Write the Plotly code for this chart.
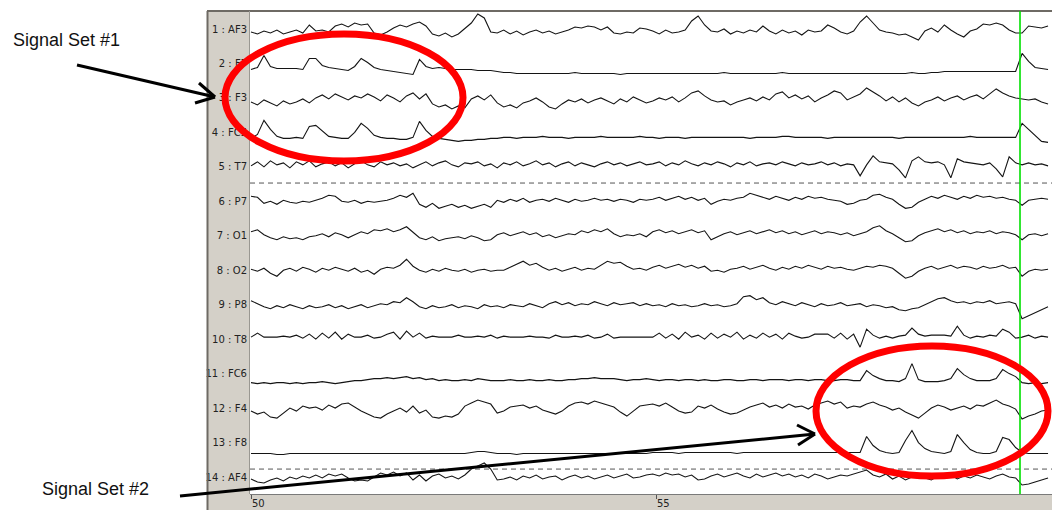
import numpy as np
import plotly.graph_objects as go

# ---------------- data ----------------
CHANNELS = ["AF3", "F7", "F3", "FC5", "T7", "P7", "O1", "O2", "P8", "T8", "FC6", "F4", "F8", "AF4"]
CHANNEL_LABELS = [f"{i + 1} : {c}" for i, c in enumerate(CHANNELS)]
T_START = 50.0          # s, first sample
DT = 0.08               # s, sample spacing of the read-off values
X_TICKS = [50, 55]
MARKER_TIME = 59.494    # green cursor
SEPARATORS = [5.47, 13.77]  # dashed marker rows

AF3 = [-3, -5, -2, -4, -1, -5, -3, -1, -4, 4, -2, -1, -3, 3, 5, 2, 6, 4, 5, -4, -6, -3, 1, 4, 2, 5, 7, 3, -5, -7, -4, -8, -5,
       1, 6, 15, 11, -3, -4, -1, -5, -2, -6, -3, -1, -4, -2, -5, -3, -1, 2, 1, 3, 2, -1, 2, -4, -5, -3, -4, 1, 0,
       -2, -5, -1, -4, -3, -1, 8, 13, 4, -2, -3, 0, -5, -2, -4, -1, -3, 3, -2, -5, -1, -4, -2, -6, -1, -3, -2, 4, 1, -3,
       -5, -2, 7, 13, 6, -1, -3, -4, -6, -5, -8, -11, -2, 1, -3, 4, -1, -5, -8, -2, 0, 5, 4, 6, 4, -1, -4, -4, 3, 2, 1, 3]
F7 = [-6, -4, 8, -3, -5, -5, -5, -5, -6, 5, 5, -2, -4, -5, -6, -7, -3, 5, 1, -4, -6, -7, -8, -9, -10, -11, 4, -3, -5, -4,
      -5, -6, -6, -6, -6, -7, -7, -7, -8,
      -9, -9, -10, -10, -10, -10, -10, -10, -10, -10, -10, -9, -10, -10, -10, -10, -10, -10, -11, -10, -10, -10, -10,
      -10, -10, -10, -10, -10, -10, -10, -10, -10, -10, -10, -9, -10, -10, -10, -10, -10, -10, -10, -10,
      -9, -10, -10, -10, -10, -10, -10, -10, -10, -10, -10, -10, -10, -10, -10, -10, -10, -10, -10, -10, -9, -10, -10,
      -9, -9, -8, -8, -8, -8, -8, -8, -8, -8, -8, -8, -8, -8, 10, 2, -4, -5, -6]
F3 = [-4, -7, -2, -5, -8, -3, -6, -4, -1, -5, 0, 3, -1, 4, 1, -2, 2, 0, 4, 1, -3, 3, 0, -4, 2, 5, -1, 4, -6, -9,
      -7, -11, -8, -10, -1, 2, -2, 3, -5, -9, -7, -10, -5, -3, 0, -4, -9, -11, -6, -2, -4, -1, -5, -2, 0, -3, -6, -1, -4, 1,
      -2, -5,
      -3, 0, -2, 1, -4, 0, 5, 7, 2, -2, -4, -3, -7, -4, -2, 0, -3, 1, -2, 4, 6, 0, 3, -1, 2, -4, 0, 3, 7, 5,
      -2, 1, 4, 10, 6, 2, -3, 1, -4, 0, -5, -8, -4, -2, 1, -3, 0, 2, -2, 1, 3, -1, 4, 9, 5, 2, 0, -1, -2, -1, -4, -6]
FC5 = [-6, -2, 12, 3, -4, -6, -6, -5, -6, 6, 7, 1, -4, -5, -6, -6, 0, 9, 4, -3, -5, -6, -6, -7, -7, -5, 11, 2, -4, -6,
       -7, -8, -9, -8, -8, -7, -7, -6, -6,
       -5, -5, -6, -5, -5, -5, -4, -5, -5, -5, -6, -5, -5, -5, -5, -4, -5, -5, -5, -5, -5, -4, -5,
       -5, -6, -5, -5, -5, -6, -5, -5, -5, -5, -5, -5, -5, -5, -5, -6, -5, -5, -5, -5, -4, -4, -5, -5, -5, -5, -5, -6,
       -5, -5, -5, -5, -5, -5, -5, -5, -5, -5, -6, -5, -5, -5, -5, -5, -5, -5, -5, -5, -5, -4, -5, -5, -5, -5, -5, -5, -5,
       9, 3, -4, -9, -10]
T7 = [1, 5, 0, 6, 2, 4, -1, 5, 2, 6, 0, 3, 5, 1, 4, -1, 3, 6, 2, 0, 5, 2, 4, 1, 3, -1, 2, 5, 1, 4, 6, 2, 0, 4, 3, 5, 1, 3,
      -1, 4, 2, 5, 1, 3, 6, 2, 4, 0, 3, 5, 1, 4, 2, 0, 3, 5, 2, 4, 1, 3, 5, 2,
      3, 5, 1, 4, 2, 6, 3, 1, 4, 2, 5, 3, 0, 4, 2, 5, 1, 3, 4, 2, 5, 3, 1, 4, 2, 3, 5, 2, 4, 1, 3, 2,
      -9, 2, 11, 5, 4, 3, -3, -11, 6, 10, 5, 4, 5, 2, -11, 8, 5, 4, 3, 2, 4, -2, -10, 10, 4, 2, 4, 2, 3, 1]
P7 = [5, 4, -2, 0, -3, 1, -1, -2, 0, -1, 1, 3, 6, 5, 0, -1, 1, -2, 0, -1, 0, 1, 3, 6, 4, 8, -3, -6, -2, -7, -5,
      -3, -6, -4, -7, -5, -3, -6, 1, -1, 2, 0, 3, -1, 1, 2, 0, 3, 1, -1, 2, 0, 1, 3, 1, 2, 0, 2, 1, -1, 2, 1,
      2, 4, 1, 3, 5, 2, 4, 1, 3, -3, 0, 2, 1, 3, 4, 8, 6, 4, 2, 5, 3, 1, 4, 2, 5, 3, 4, 2, 1, 0, -3, -2, 1, 2,
      6, 7, 4, 2, -3, -7, -6, -1, 2, 5, 3, 6, 4, 2, 5, 3, 6, 4, 5, 3, 4, 2, 1, -4, 1, 2, 3, 2]
O1 = [4, 6, 1, -2, -4, -1, -3, -2, -4, -1, 0, 2, -1, 3, 1, -2, 1, 4, 2, 6, 5, 7, 4, 6, 9, 3, -2, -4, -1, -5, -3, -2,
      -1, -3, 0, -2, -5, -4, 1, 3, 0, 2, 4, 1, 3, -1, 1, -2, 0, 2, 1, 5, 3, 6, 4, 7, 2, -1, 1, 0, 2, -1,
      4, 6, 3, 5, 2, 4, 6, 3, 5, -4, -1, 2, 4, 1, 3, 5, 2, 4, 6, 3, 5, 2, 4, 1, 3, 5, 2, 4, 3, 1, 3, 0, 2,
      4, 8, 10, 5, 2, -2, -6, -5, 0, 3, 5, 7, 4, 6, 3, 5, 2, 4, 3, 5, 2, 4, 3, 1, -4, 1, 2, 0, 2]
O2 = [1, -1, 2, -3, -6, 0, 2, -1, 3, 1, -2, 2, 0, 3, 1, -1, 2, -2, 0, -4, 1, 3, 2, 5, 11, 4, 0, -2, 1, -1, 2, 0, -1,
      1, -2, 0, 1, -1, 0, 0, 3, 6, 9, 5, 7, 3, 0, 2, -1, 1, 3, 0, 2, 1, 5, 9, 7, 8, 4, 1, 2, 0,
      3, 5, 2, 4, 6, 3, 5, 2, 4, -1, 0, -2, 1, 2, 4, 1, 3, 5, 2, 0, 3, 1, 4, 2, 5, 3, 1, 4, 2, 3, 1, 0,
      2, 4, 3, 5, 4, 2, -3, -8, -6, -1, 2, 4, 1, 3, 5, 2, 4, 3, 1, 4, 2, 3, 5, 2, 3, -6, -1, 1, 0, 1]
P8 = [4, 1, -2, -4, -1, -3, 0, -2, -4, -1, -3, -2, 0, -3, -1, -4, -2, 0, -3, -1, 1, 0, 3, 2, 7, 3,
      -2, -4, -1, -3, -2, 0, -3, -1, -2, -4, 0, -2, -1, -3, 0, -1, -2, 1, -1, -3,
      1, 3, 0, 2, -1, 1, 0, 3, 1, -1, 2, 0, 1, 2, -1, 1,
      -1, 0, -2, 1, -1, 0, -2, -1, 1, -1, 0, -2, -1, 1, 8, 9, 5, 7, 2, 0, 3, 1, -1, 2, 0, -2, 1, -1, 0, 2, -1, 0, 1,
      -2, 0, -1, -3, -2, -5, -6, -4, -3, 0, 3, 6, 7, 4, 2, 3, 1, 3, 2, 4, 1, 2, 3, 1, -14, -11, -8, -5, -2]
T8 = [2, 6, 2, 2, 2, 3, 2, 4, 1, 5, 0, 6, 1, 7, 0, 5, 2, 2, 4, 1, 2, 5, 7, 0, 8, 2, 6, 1, 3, 2, 2, 2, 4, 2, 2, 3,
      2, 4, 1, 3, 2, 2, 2, 3, 2, 2, 1, 4, 2, 2, 3, 2, 4, 1, 2, 5, 1, 2, 2, 2, 2, 2,
      2, 6, 1, 5, 0, 7, 2, 4, 0, 6, 1, 5, 2, 7, 0, 4, 1, 6, 2, 5, 0, 6, 3, 1, 2, 5, 5, 5, 1, 6, 0, 5,
      -8, 10, 4, 1, 3, 1, 3, 4, 11, 5, 3, 4, 4, 4, 3, 13, 4, 1, 3, 2, 4, 3, 10, 7, 1, 2, 4, 1, 3, 2]
FC6 = [-9, -10, -9, -10, -9, -9, -10, -9, -10, -9, -9, -8, -9, -10, -9, -8, -7, -7, -6, -5, -5,
       -4, -5, -4, -3, -5, -4, -6, -5,
       -7, -6, -7, -7, -6, -7, -5, -6, -7, -7, -7, -6, -7, -7, -6, -7, -7, -6, -7, -7, -6,
       -6, -5, -5, -4, -5, -5, -5, -6, -7, -6, -6, -5,
       -6, -7, -6, -6, -7, -6, -6, -7, -6, -7, -7, -6, -6, -7, -7, -6, -6, -7, -6, -6, -6, -7, -6, -6, -7, -6, -6, -7,
       -7, -6, -6, -7,
       -7, 3, -2, -5, -7, -7, -8, -5, 10, -6, -8, -8, -8, -7, -5, 5, -1, -5, -7, -7, -7, -5, 4, 0, -3, -9, -10, -9, -10, -9]
F4 = [-3, -6, -4, -9, -10, -5, 0, -3, 2, 0, 1, -2, 3, 0, 4, 5, 1, -3, -6, -9, -10, -6, -3, 0, -4, 2, -5, -2, -9, -10,
      -8, -9, -6, 2, 5, 8, 6, 4, -5, -3, 1, 2, 3, 0, 2, -2, -4, -6, -3, 2, 5, 6, 4, 7, 5, 3, 1, -4, -8, -3, 2, 3,
      4, 2, 5, 1, -3, -5, -4, 2, 0, 3, -1, -4, -6, -5, -2, 1, 3, 5, 1, 3, 0, 4, 1, 2, -1, 3, 5, 7, 4, 6, 0, 2,
      1, 4, 6, 3, 1, -2, 0, -4, -7, -10, -5, 0, 3, 1, -2, 0, 2, -1, 3, 2, 5, 8, 4, 2, -1, -11, -8, -6, -3, -2]
F8 = [-11, -11, -11, -11, -12, -12, -11, -11, -11, -11, -11, -11, -11, -11, -11, -11, -11, -11, -11, -11,
      -11, -11, -11, -11, -11, -11, -11, -11, -11, -11, -11, -11, -11, -11, -10, -9, -9, -10,
      -11, -11, -11, -12, -11, -11, -11, -11, -11, -11, -11, -11, -11, -11, -11, -11, -11, -11, -11, -11,
      -11, -11, -11, -11,
      -10, -10, -10, -10, -11, -10, -10, -10, -10, -10, -10, -10, -10, -11, -10, -10, -10, -10, -10, -10,
      -10, -10, -10, -10, -10, -10, -10, -10, -10, -10, -10, -10,
      -10, 6, -3, -8, -10, -11, -10, 2, 12, 0, -6, -9, -10, -11, -9, 8, 0, -7, -10, -11, -11, -9, 5, 3, -5,
      -10, -11, -11, -11, -11]
AF4 = [-2, -5, -6, -3, -1, -4, 0, -2, 1, -1, 2, -1, 3, 1, 3, -1, -4, -3, -4, 0, 4, 2, 5, 1, 4, -3, 2, -4, 1, 3,
       -1, 1, -2, 2, 8, 11, 14, 8, -3, -2,
       0, -3, 1, -1, 2, -2, 0, 1, -3, 0, 2, -1, 1, -2, 0, 2, -1, 1, 3, -1, 0, 2,
       3, 1, 4, 2, 3, 0, 2, -3, -2, 1, 3, 0, 2, 4, 1, -1, 3, 0, 2, 4, 1, 3, 0, 2, -1, 3, 1, -2, 0, 2, 1, 3,
       5, 7, 2, 0, 3, -2, 1, -3, 0, 2, -1, -3, 1, 0, 2, -2, 1, -1, 2, 0, -2, 1, 3, 0, -1, -8, -7, -5, -3, -1]

SIGNALS = [AF3, F7, F3, FC5, T7, P7, O1, O2, P8, T8, FC6, F4, F8, AF4]

# ---------------- layout geometry ----------------
W, H = 1052, 510
ML, MR, MT, MB = 250, 0, 11, 16
PW, PH = W - ML - MR, H - MT - MB
ROW_PX = 34.46          # pixels between channel rows
GAIN = 1.0 / ROW_PX     # display sensitivity (value units -> row units)


def px(x):
    return (x - ML) / PW


def py(y):
    return (H - MB - y) / PH


fig = go.Figure()
for k, (name, vals) in enumerate(zip(CHANNELS, SIGNALS)):
    v = np.asarray(vals, dtype=float)
    t = T_START + DT * np.arange(len(v))
    fig.add_trace(go.Scatter(x=t, y=(k + 1) - v * GAIN, mode="lines", name=name,
                             line=dict(color="#141414", width=1.1), hoverinfo="skip",
                             showlegend=False))

y_top = 1 - (29 - MT) / ROW_PX
y_bot = len(CHANNELS) + (H - MB - 477) / ROW_PX
x_left = T_START + (ML - 251) / 81.0
x_right = T_START + (W - 251) / 81.0

shapes = []
GRAY = "#d4d0c8"
# label panel and bottom strip
shapes.append(dict(type="rect", xref="paper", yref="paper", x0=px(207), x1=px(250), y0=py(H), y1=py(MT),
                   fillcolor=GRAY, line=dict(width=0), layer="below"))
shapes.append(dict(type="rect", xref="paper", yref="paper", x0=px(207), x1=px(W), y0=py(H), y1=py(494.5),
                   fillcolor=GRAY, line=dict(width=0), layer="below"))
# frame lines
shapes.append(dict(type="line", xref="paper", yref="paper", x0=px(207), x1=px(W), y0=py(11), y1=py(11),
                   line=dict(color="#6e6a64", width=2)))
shapes.append(dict(type="line", xref="paper", yref="paper", x0=px(207.5), x1=px(207.5), y0=py(11), y1=py(H),
                   line=dict(color="#6e6a64", width=2)))
shapes.append(dict(type="line", xref="paper", yref="paper", x0=px(249.5), x1=px(249.5), y0=py(494), y1=py(11),
                   line=dict(color="#9a9892", width=1)))
# dashed separators
for s in SEPARATORS:
    shapes.append(dict(type="line", xref="paper", yref="y", x0=0, x1=1, y0=s, y1=s,
                       line=dict(color="#555555", width=1, dash="5px,4px")))
# green cursor
shapes.append(dict(type="line", xref="x", yref="paper", x0=MARKER_TIME, x1=MARKER_TIME, y0=0, y1=1,
                   line=dict(color="#00e000", width=1.6)))
# red ellipses
shapes.append(dict(type="circle", xref="paper", yref="paper", x0=px(225), x1=px(463), y0=py(161), y1=py(34),
                   line=dict(color="#ff0000", width=7)))
shapes.append(dict(type="circle", xref="paper", yref="paper", x0=px(816), x1=px(1048), y0=py(476), y1=py(346),
                   line=dict(color="#ff0000", width=7)))
# arrows
arrow_lines = [((77, 65), (215, 97)), ((199, 83), (215, 97)), ((195, 103), (215, 97)),
               ((180, 496), (815, 434)), ((797, 425), (815, 434)), ((798, 445), (815, 434))]
for (xa, ya), (xb, yb) in arrow_lines:
    shapes.append(dict(type="line", xref="paper", yref="paper", x0=px(xa), y0=py(ya), x1=px(xb), y1=py(yb),
                       line=dict(color="#000000", width=3)))

annotations = [
    dict(text="Signal Set #1", xref="paper", yref="paper", x=px(11), y=py(40), xanchor="left", yanchor="middle",
         showarrow=False, font=dict(family="Liberation Sans", size=18, color="#111111")),
    dict(text="Signal Set #2", xref="paper", yref="paper", x=px(40), y=py(489), xanchor="left", yanchor="middle",
         showarrow=False, font=dict(family="Liberation Sans", size=18, color="#111111")),
]

fig.update_layout(
    width=W, height=H,
    margin=dict(l=ML, r=MR, t=MT, b=MB, pad=0),
    paper_bgcolor="white", plot_bgcolor="white",
    shapes=shapes, annotations=annotations,
    showlegend=False,
    xaxis=dict(range=[x_left, x_right], tickvals=X_TICKS, ticktext=[str(v) for v in X_TICKS],
               ticks="outside", ticklen=4, tickcolor="#555555", ticklabelposition="outside right",
               showline=True, linecolor="#7a7a7a", linewidth=1, showgrid=False, zeroline=False,
               tickfont=dict(family="DejaVu Sans", size=10, color="#222222")),
    yaxis=dict(range=[y_bot, y_top], tickvals=list(range(1, len(CHANNELS) + 1)), ticktext=CHANNEL_LABELS,
               ticks="", showgrid=False, zeroline=False, showline=False, ticklabelstandoff=2,
               tickfont=dict(family="DejaVu Sans", size=10, color="#222222")),
)

fig.write_html("out.html", config={"displayModeBar": False},
               post_script="document.body.style.margin='0px';document.body.style.overflow='hidden';")
